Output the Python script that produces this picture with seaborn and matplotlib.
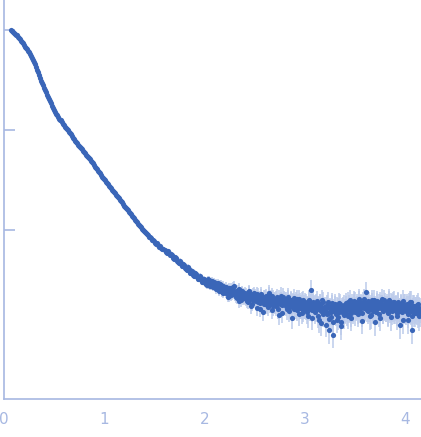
import numpy as np
import seaborn as sns
import matplotlib.pyplot as plt

# scattering vector, low-q part
q_low = [0.07, 0.09, 0.11, 0.13, 0.15, 0.17, 0.19, 0.21, 0.23, 0.25,
         0.27, 0.29, 0.31, 0.33, 0.35, 0.37, 0.39, 0.41, 0.43, 0.45,
         0.47, 0.49, 0.51, 0.53, 0.55, 0.57, 0.59, 0.61, 0.63, 0.65,
         0.67, 0.69, 0.71, 0.73, 0.75, 0.77, 0.79, 0.81, 0.83, 0.85,
         0.87, 0.89, 0.91, 0.93, 0.95, 0.97, 0.99, 1.01, 1.03, 1.05,
         1.07, 1.09, 1.11, 1.13, 1.15, 1.17, 1.19, 1.21, 1.23, 1.25,
         1.27, 1.29, 1.31, 1.33, 1.35, 1.37, 1.39, 1.41, 1.43, 1.45,
         1.47, 1.49, 1.51, 1.53, 1.55, 1.57, 1.59, 1.61, 1.63, 1.65,
         1.67, 1.69, 1.71, 1.73, 1.75, 1.77, 1.79, 1.81, 1.83, 1.85,
         1.87, 1.89, 1.91, 1.93, 1.95, 1.97, 1.99]

# log10 of intensity, low-q part
logI_low = [0.00, -0.02, -0.04, -0.05, -0.08, -0.11, -0.13, -0.17, -0.19, -0.22,
            -0.26, -0.30, -0.34, -0.40, -0.45, -0.51, -0.55, -0.60, -0.65, -0.69,
            -0.73, -0.78, -0.82, -0.85, -0.89, -0.90, -0.94, -0.97, -0.99, -1.02,
            -1.04, -1.08, -1.11, -1.13, -1.16, -1.18, -1.21, -1.23, -1.26, -1.28,
            -1.31, -1.33, -1.37, -1.39, -1.42, -1.45, -1.48, -1.50, -1.53, -1.56,
            -1.58, -1.61, -1.63, -1.66, -1.68, -1.71, -1.74, -1.77, -1.79, -1.82,
            -1.84, -1.87, -1.90, -1.92, -1.95, -1.97, -2.00, -2.02, -2.04, -2.07,
            -2.08, -2.10, -2.13, -2.13, -2.17, -2.18, -2.19, -2.22, -2.21, -2.25,
            -2.25, -2.29, -2.28, -2.32, -2.31, -2.36, -2.35, -2.39, -2.37, -2.43,
            -2.41, -2.46, -2.44, -2.49, -2.46, -2.52, -2.49]

# relative errors, low-q part
err_low = [0.01, 0.01, 0.01, 0.01, 0.01, 0.01, 0.01, 0.01, 0.01, 0.01,
           0.01, 0.01, 0.01, 0.01, 0.01, 0.01, 0.01, 0.01, 0.01, 0.01,
           0.01, 0.01, 0.01, 0.01, 0.01, 0.01, 0.01, 0.01, 0.01, 0.01,
           0.01, 0.01, 0.01, 0.01, 0.01, 0.01, 0.01, 0.01, 0.01, 0.01,
           0.02, 0.02, 0.02, 0.02, 0.02, 0.02, 0.02, 0.02, 0.02, 0.02,
           0.02, 0.02, 0.02, 0.02, 0.02, 0.03, 0.03, 0.03, 0.03, 0.03,
           0.03, 0.03, 0.03, 0.03, 0.03, 0.03, 0.03, 0.04, 0.04, 0.04,
           0.04, 0.04, 0.04, 0.04, 0.04, 0.05, 0.05, 0.05, 0.05, 0.05,
           0.05, 0.05, 0.05, 0.06, 0.06, 0.06, 0.06, 0.06, 0.06, 0.06,
           0.07, 0.07, 0.07, 0.07, 0.07, 0.07, 0.07]

# the in-between low-q points
q_mid = [0.08, 0.10, 0.12, 0.14, 0.16, 0.18, 0.20, 0.22, 0.24, 0.26,
         0.28, 0.30, 0.32, 0.34, 0.36, 0.38, 0.40, 0.42, 0.44, 0.46,
         0.48, 0.50, 0.52, 0.54, 0.56, 0.58, 0.60, 0.62, 0.64, 0.66,
         0.68, 0.70, 0.72, 0.74, 0.76, 0.78, 0.80, 0.82, 0.84, 0.86,
         0.88, 0.90, 0.92, 0.94, 0.96, 0.98, 1.00, 1.02, 1.04, 1.06,
         1.08, 1.10, 1.12, 1.14, 1.16, 1.18, 1.20, 1.22, 1.24, 1.26,
         1.28, 1.30, 1.32, 1.34, 1.36, 1.38, 1.40, 1.42, 1.44, 1.46,
         1.48, 1.50, 1.52, 1.54, 1.56, 1.58, 1.60, 1.62, 1.64, 1.66,
         1.68, 1.70, 1.72, 1.74, 1.76, 1.78, 1.80, 1.82, 1.84, 1.86,
         1.88, 1.90, 1.92, 1.94, 1.96, 1.98]

logI_mid = [-0.01, -0.03, -0.05, -0.07, -0.09, -0.12, -0.15, -0.18, -0.21, -0.24,
            -0.28, -0.32, -0.37, -0.42, -0.48, -0.53, -0.58, -0.62, -0.67, -0.71,
            -0.76, -0.80, -0.84, -0.87, -0.90, -0.92, -0.95, -0.98, -1.00, -1.03,
            -1.06, -1.09, -1.12, -1.15, -1.17, -1.19, -1.22, -1.25, -1.27, -1.29,
            -1.32, -1.35, -1.38, -1.41, -1.43, -1.47, -1.49, -1.52, -1.54, -1.57,
            -1.60, -1.62, -1.65, -1.67, -1.70, -1.72, -1.76, -1.78, -1.80, -1.83,
            -1.86, -1.88, -1.91, -1.94, -1.96, -1.99, -2.01, -2.03, -2.05, -2.07,
            -2.10, -2.11, -2.14, -2.15, -2.16, -2.19, -2.20, -2.23, -2.23, -2.24,
            -2.28, -2.27, -2.31, -2.33, -2.34, -2.34, -2.38, -2.40, -2.39, -2.42,
            -2.45, -2.43, -2.47, -2.49, -2.48, -2.50]

# high-q part, noisy
q_high = [2.00, 2.01, 2.02, 2.03, 2.04, 2.05, 2.06, 2.07, 2.08, 2.09,
          2.10, 2.11, 2.12, 2.13, 2.14, 2.15, 2.16, 2.17, 2.18, 2.19,
          2.20, 2.21, 2.22, 2.23, 2.24, 2.25, 2.26, 2.27, 2.28, 2.29,
          2.30, 2.31, 2.32, 2.33, 2.34, 2.35, 2.36, 2.37, 2.38, 2.39,
          2.40, 2.41, 2.42, 2.43, 2.44, 2.45, 2.46, 2.47, 2.48, 2.49,
          2.50, 2.51, 2.52, 2.53, 2.54, 2.55, 2.56, 2.57, 2.58, 2.59,
          2.60, 2.61, 2.62, 2.63, 2.64, 2.65, 2.66, 2.67, 2.68, 2.69,
          2.70, 2.71, 2.72, 2.73, 2.74, 2.75, 2.76, 2.77, 2.78, 2.79,
          2.80, 2.81, 2.82, 2.83, 2.84, 2.85, 2.86, 2.87, 2.88, 2.89,
          2.90, 2.91, 2.92, 2.93, 2.94, 2.95, 2.96, 2.97, 2.98, 2.99,
          3.00, 3.01, 3.02, 3.03, 3.04, 3.05, 3.06, 3.07, 3.08, 3.09,
          3.10, 3.11, 3.12, 3.13, 3.14, 3.15, 3.16, 3.17, 3.18, 3.19,
          3.20, 3.21, 3.22, 3.23, 3.24, 3.25, 3.26, 3.27, 3.28, 3.29,
          3.30, 3.31, 3.32, 3.33, 3.34, 3.35, 3.36, 3.37, 3.38, 3.39,
          3.40, 3.41, 3.42, 3.43, 3.44, 3.45, 3.46, 3.47, 3.48, 3.49,
          3.50, 3.51, 3.52, 3.53, 3.54, 3.55, 3.56, 3.57, 3.58, 3.59,
          3.60, 3.61, 3.62, 3.63, 3.64, 3.65, 3.66, 3.67, 3.68, 3.69,
          3.70, 3.71, 3.72, 3.73, 3.74, 3.75, 3.76, 3.77, 3.78, 3.79,
          3.80, 3.81, 3.82, 3.83, 3.84, 3.85, 3.86, 3.87, 3.88, 3.89,
          3.90, 3.91, 3.92, 3.93, 3.94, 3.95, 3.96, 3.97, 3.98, 3.99,
          4.00, 4.01, 4.02, 4.03, 4.04, 4.05, 4.06, 4.07, 4.08, 4.09,
          4.10, 4.11, 4.12, 4.13, 4.14, 4.15]

logI_high = [-2.50, -2.54, -2.52, -2.49, -2.55, -2.53, -2.51, -2.56, -2.54, -2.52,
             -2.57, -2.53, -2.58, -2.55, -2.60, -2.54, -2.57, -2.62, -2.56, -2.58,
             -2.61, -2.57, -2.63, -2.59, -2.66, -2.60, -2.58, -2.64, -2.62, -2.56,
             -2.65, -2.61, -2.68, -2.63, -2.59, -2.66, -2.70, -2.62, -2.64, -2.67,
             -2.63, -2.69, -2.66, -2.72, -2.62, -2.67, -2.65, -2.74, -2.64, -2.69,
             -2.66, -2.71, -2.78, -2.65, -2.69, -2.73, -2.64, -2.70, -2.82, -2.67,
             -2.72, -2.66, -2.75, -2.69, -2.63, -2.74, -2.71, -2.80, -2.68, -2.73,
             -2.70, -2.76, -2.67, -2.73, -2.85, -2.71, -2.66, -2.75, -2.72, -2.69,
             -2.74, -2.70, -2.79, -2.67, -2.73, -2.77, -2.71, -2.88, -2.72, -2.68,
             -2.76, -2.71, -2.80, -2.73, -2.69, -2.78, -2.74, -2.83, -2.70, -2.77,
             -2.72, -2.79, -2.75, -2.86, -2.71, -2.77, -2.60, -2.80, -2.74, -2.78,
             -2.82, -2.73, -2.79, -2.76, -2.90, -2.74, -2.81, -2.70, -2.84, -2.77,
             -2.80, -2.95, -2.75, -2.83, -3.00, -2.79, -2.87, -2.73, -2.92, -2.81,
             -2.76, -2.84, -2.90, -2.78, -2.82, -2.74, -2.96, -2.80, -2.77, -2.85,
             -2.81, -2.73, -2.79, -2.86, -2.75, -2.70, -2.83, -2.77, -2.80, -2.74,
             -2.72, -2.79, -2.76, -2.84, -2.71, -2.78, -2.74, -2.91, -2.75, -2.69,
             -2.78, -2.62, -2.75, -2.81, -2.72, -2.77, -2.85, -2.73, -2.79, -2.70,
             -2.76, -2.82, -2.71, -2.78, -2.74, -2.88, -2.75, -2.69, -2.80, -2.77,
             -2.73, -2.79, -2.76, -2.83, -2.70, -2.77, -2.74, -2.81, -2.78, -2.72,
             -2.80, -2.75, -2.86, -2.73, -2.79, -2.95, -2.76, -2.82, -2.71, -2.78,
             -2.75, -2.81, -2.77, -2.90, -2.74, -2.80, -2.72, -3.00, -2.79, -2.76,
             -2.83, -2.77, -2.81, -2.74, -2.86, -2.79]

err_high = [0.08, 0.08, 0.09, 0.08, 0.09, 0.09, 0.08, 0.09, 0.09, 0.10,
            0.09, 0.10, 0.09, 0.10, 0.10, 0.10, 0.11, 0.10, 0.11, 0.10,
            0.11, 0.11, 0.12, 0.11, 0.12, 0.11, 0.12, 0.12, 0.13, 0.12,
            0.13, 0.12, 0.13, 0.13, 0.14, 0.13, 0.14, 0.13, 0.14, 0.14,
            0.15, 0.14, 0.15, 0.15, 0.16, 0.15, 0.16, 0.15, 0.16, 0.16,
            0.17, 0.16, 0.17, 0.17, 0.18, 0.17, 0.18, 0.17, 0.18, 0.18,
            0.19, 0.18, 0.19, 0.19, 0.20, 0.19, 0.20, 0.19, 0.20, 0.20,
            0.21, 0.20, 0.21, 0.20, 0.21, 0.21, 0.22, 0.21, 0.22, 0.21,
            0.22, 0.21, 0.22, 0.22, 0.23, 0.22, 0.23, 0.22, 0.23, 0.23,
            0.23, 0.22, 0.23, 0.23, 0.24, 0.23, 0.24, 0.23, 0.24, 0.24,
            0.24, 0.23, 0.24, 0.24, 0.25, 0.24, 0.25, 0.24, 0.25, 0.25,
            0.25, 0.24, 0.25, 0.25, 0.26, 0.25, 0.26, 0.25, 0.26, 0.26,
            0.26, 0.25, 0.26, 0.26, 0.27, 0.26, 0.27, 0.26, 0.27, 0.27,
            0.26, 0.25, 0.26, 0.26, 0.27, 0.26, 0.27, 0.26, 0.27, 0.27,
            0.26, 0.25, 0.26, 0.26, 0.27, 0.26, 0.27, 0.26, 0.27, 0.27,
            0.26, 0.25, 0.26, 0.26, 0.27, 0.26, 0.27, 0.26, 0.27, 0.27,
            0.26, 0.25, 0.26, 0.26, 0.27, 0.26, 0.27, 0.26, 0.27, 0.27,
            0.26, 0.25, 0.26, 0.26, 0.27, 0.26, 0.27, 0.26, 0.27, 0.27,
            0.27, 0.26, 0.27, 0.27, 0.28, 0.27, 0.28, 0.27, 0.28, 0.28,
            0.27, 0.26, 0.27, 0.27, 0.28, 0.27, 0.28, 0.27, 0.28, 0.28,
            0.28, 0.27, 0.28, 0.28, 0.29, 0.28, 0.29, 0.28, 0.29, 0.29,
            0.28, 0.27, 0.28, 0.28, 0.29, 0.28]

# second interleaved set of high-q points
q_high2 = [2.005, 2.015, 2.025, 2.035, 2.045, 2.055, 2.065, 2.075, 2.085, 2.095,
           2.105, 2.115, 2.125, 2.135, 2.145, 2.155, 2.165, 2.175, 2.185, 2.195,
           2.205, 2.215, 2.225, 2.235, 2.245, 2.255, 2.265, 2.275, 2.285, 2.295,
           2.305, 2.315, 2.325, 2.335, 2.345, 2.355, 2.365, 2.375, 2.385, 2.395,
           2.405, 2.415, 2.425, 2.435, 2.445, 2.455, 2.465, 2.475, 2.485, 2.495,
           2.505, 2.515, 2.525, 2.535, 2.545, 2.555, 2.565, 2.575, 2.585, 2.595,
           2.605, 2.615, 2.625, 2.635, 2.645, 2.655, 2.665, 2.675, 2.685, 2.695,
           2.705, 2.715, 2.725, 2.735, 2.745, 2.755, 2.765, 2.775, 2.785, 2.795,
           2.805, 2.815, 2.825, 2.835, 2.845, 2.855, 2.865, 2.875, 2.885, 2.895,
           2.905, 2.915, 2.925, 2.935, 2.945, 2.955, 2.965, 2.975, 2.985, 2.995,
           3.005, 3.015, 3.025, 3.035, 3.045, 3.055, 3.065, 3.075, 3.085, 3.095,
           3.105, 3.115, 3.125, 3.135, 3.145, 3.155, 3.165, 3.175, 3.185, 3.195,
           3.205, 3.215, 3.225, 3.235, 3.245, 3.255, 3.265, 3.275, 3.285, 3.295,
           3.305, 3.315, 3.325, 3.335, 3.345, 3.355, 3.365, 3.375, 3.385, 3.395,
           3.405, 3.415, 3.425, 3.435, 3.445, 3.455, 3.465, 3.475, 3.485, 3.495,
           3.505, 3.515, 3.525, 3.535, 3.545, 3.555, 3.565, 3.575, 3.585, 3.595,
           3.605, 3.615, 3.625, 3.635, 3.645, 3.655, 3.665, 3.675, 3.685, 3.695,
           3.705, 3.715, 3.725, 3.735, 3.745, 3.755, 3.765, 3.775, 3.785, 3.795,
           3.805, 3.815, 3.825, 3.835, 3.845, 3.855, 3.865, 3.875, 3.885, 3.895,
           3.905, 3.915, 3.925, 3.935, 3.945, 3.955, 3.965, 3.975, 3.985, 3.995,
           4.005, 4.015, 4.025, 4.035, 4.045, 4.055, 4.065, 4.075, 4.085, 4.095,
           4.105, 4.115, 4.125, 4.135, 4.145]

logI_high2 = [-2.53, -2.51, -2.55, -2.52, -2.50, -2.56, -2.53, -2.51, -2.57, -2.54,
              -2.55, -2.59, -2.56, -2.53, -2.61, -2.57, -2.55, -2.59, -2.63, -2.57,
              -2.59, -2.63, -2.60, -2.67, -2.58, -2.62, -2.65, -2.60, -2.57, -2.63,
              -2.62, -2.67, -2.64, -2.60, -2.71, -2.63, -2.66, -2.61, -2.68, -2.65,
              -2.68, -2.64, -2.71, -2.66, -2.61, -2.69, -2.76, -2.66, -2.70, -2.63,
              -2.70, -2.67, -2.64, -2.72, -2.68, -2.79, -2.66, -2.71, -2.69, -2.74,
              -2.68, -2.73, -2.70, -2.77, -2.65, -2.71, -2.68, -2.66, -2.76, -2.70,
              -2.74, -2.69, -2.72, -2.79, -2.68, -2.74, -2.71, -2.83, -2.67, -2.73,
              -2.71, -2.76, -2.73, -2.69, -2.81, -2.74, -2.70, -2.76, -2.73, -2.79,
              -2.73, -2.78, -2.69, -2.75, -2.84, -2.72, -2.77, -2.71, -2.80, -2.74,
              -2.77, -2.73, -2.82, -2.76, -2.70, -2.79, -2.74, -2.88, -2.72, -2.76,
              -2.75, -2.80, -2.71, -2.86, -2.77, -2.74, -2.93, -2.78, -2.72, -2.80,
              -2.77, -2.84, -2.72, -2.89, -2.78, -2.82, -2.75, -3.05, -2.79, -2.74,
              -2.82, -2.77, -2.87, -2.73, -2.80, -2.92, -2.78, -2.83, -2.75, -2.79,
              -2.76, -2.84, -2.72, -2.80, -2.78, -2.88, -2.74, -2.79, -2.71, -2.82,
              -2.77, -2.74, -2.81, -2.69, -2.79, -2.75, -2.83, -2.72, -2.78, -2.76,
              -2.74, -2.80, -2.71, -2.79, -2.86, -2.75, -2.70, -2.81, -2.76, -2.92,
              -2.79, -2.73, -2.77, -2.84, -2.72, -2.78, -2.75, -2.81, -2.70, -2.76,
              -2.78, -2.74, -2.82, -2.71, -2.79, -2.87, -2.75, -2.72, -2.80, -2.77,
              -2.76, -2.83, -2.72, -2.78, -2.81, -2.74, -2.79, -2.90, -2.75, -2.80,
              -2.79, -2.74, -2.84, -2.77, -2.72, -2.81, -2.86, -2.76, -2.82, -2.78,
              -2.80, -2.75, -2.84, -2.78, -2.82]

x_ticks = [0, 1, 2, 3, 4]
y_ticks = [1, 0.1, 0.01]

axis_col = '#a7b8e2'
dot_col = '#3a66b8'
bar_col = '#bccbeb'

# neighbouring points carry the same error level
err_mid = err_low[1:]
err_high2 = err_high[:len(q_high2)]

q = np.array(q_low + q_mid + q_high + q_high2)
I = 10 ** np.array(logI_low + logI_mid + logI_high + logI_high2)
err = I * np.array(err_low + err_mid + err_high + err_high2)

sns.set_style('white')
plt.rcParams['font.family'] = ['DejaVu Sans']

fig, ax = plt.subplots(figsize=(4.21, 4.37), dpi=100)
fig.subplots_adjust(left=4 / 421, right=1.0, bottom=38 / 437, top=1.0)

ax.set_yscale('log')
ax.errorbar(q, I, yerr=err, fmt='none', ecolor=bar_col, elinewidth=1.1, zorder=1)
sns.scatterplot(x=q, y=I, ax=ax, s=14, color=dot_col, linewidth=0, zorder=2)

ax.set_xlim(0, 4.157)
ax.set_ylim(10 ** -3.69, 10 ** 0.30)
ax.set_xticks(x_ticks)
ax.set_xticklabels([str(t) for t in x_ticks])
ax.set_yticks(y_ticks)
ax.set_yticklabels([])
ax.yaxis.set_minor_locator(plt.NullLocator())
ax.set_xlabel('')
ax.set_ylabel('')

for side in ['top', 'right']:
    ax.spines[side].set_visible(False)
for side in ['left', 'bottom']:
    ax.spines[side].set_color(axis_col)
    ax.spines[side].set_linewidth(1.2)

ax.tick_params(axis='x', direction='in', length=7, width=1.2, color=axis_col,
               labelcolor=axis_col, labelsize=11, pad=9)
ax.tick_params(axis='y', direction='in', length=8, width=1.2, color=axis_col, left=True)

plt.savefig('out.png', dpi=100)
